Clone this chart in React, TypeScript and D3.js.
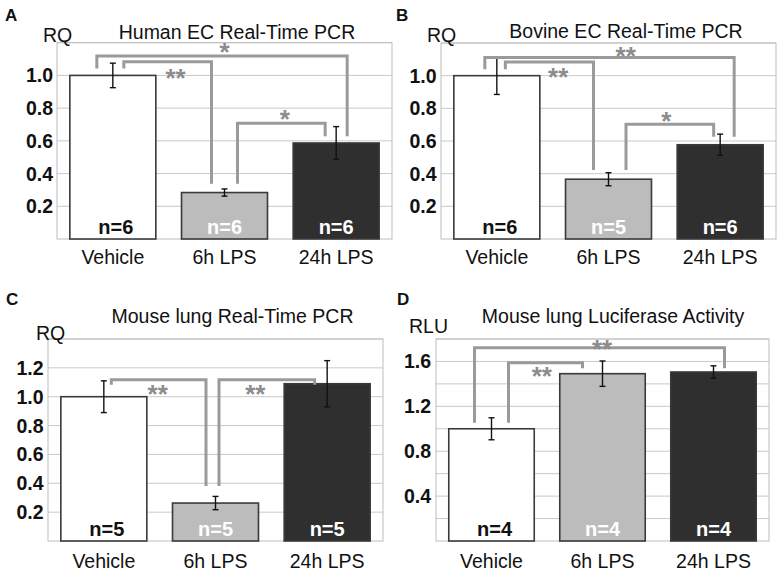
import React from "react";
import * as d3 from "d3";

// ---------- data ----------
const categories = ["Vehicle", "6h LPS", "24h LPS"];

const humanValues = [1.0, 0.284, 0.587];
const humanErrors = [0.075, 0.022, 0.1];
const humanN = [6, 6, 6];

const bovineValues = [1.0, 0.366, 0.577];
const bovineErrors = [0.115, 0.04, 0.065];
const bovineN = [6, 5, 6];

const mouseRQValues = [1.0, 0.263, 1.09];
const mouseRQErrors = [0.11, 0.046, 0.16];
const mouseRQN = [5, 5, 5];

const lucValues = [1.0, 1.491, 1.506];
const lucErrors = [0.098, 0.113, 0.055];
const lucN = [4, 4, 4];

const rqTicks12 = [0.2, 0.4, 0.6, 0.8, 1.0];
const rqTicks14 = [0.2, 0.4, 0.6, 0.8, 1.0, 1.2];
const rluTicks = [0.4, 0.8, 1.2, 1.6];

const grid12 = [0.2, 0.4, 0.6, 0.8, 1.0, 1.2];
const grid14 = [0.2, 0.4, 0.6, 0.8, 1.0, 1.2, 1.4];
const grid18 = [0.2, 0.4, 0.6, 0.8, 1.0, 1.2, 1.4, 1.6, 1.8];

// significance brackets: from/to category index, bracket level, leg ends, label, label level, label pos along span
const humanBrackets = [
  { from: 0, to: 2, level: 1.118, endFrom: 1.043, endTo: 0.628, label: "*", labelLevel: 1.178, t: 0.51 },
  { from: 0, to: 1, level: 1.084, endFrom: 1.043, endTo: 0.337, label: "**", labelLevel: 1.018, t: 0.59 },
  { from: 1, to: 2, level: 0.707, endFrom: 0.337, endTo: 0.628, label: "*", labelLevel: 0.772, t: 0.54 },
];
const bovineBrackets = [
  { from: 0, to: 2, level: 1.111, endFrom: 1.04, endTo: 0.626, label: "**", labelLevel: 1.156, t: 0.565 },
  { from: 0, to: 1, level: 1.084, endFrom: 1.04, endTo: 0.422, label: "**", labelLevel: 1.028, t: 0.6 },
  { from: 1, to: 2, level: 0.703, endFrom: 0.422, endTo: 0.626, label: "*", labelLevel: 0.758, t: 0.46 },
];
const mouseRQBrackets = [
  { from: 0, to: 1, level: 1.118, endFrom: 1.083, endTo: 0.381, label: "**", labelLevel: 1.062, t: 0.49 },
  { from: 1, to: 2, level: 1.118, endFrom: 0.381, endTo: 1.083, label: "**", labelLevel: 1.062, t: 0.38 },
];
const lucBrackets = [
  { from: 0, to: 2, level: 1.723, endFrom: 1.054, endTo: 1.539, label: "**", labelLevel: 1.767, t: 0.51 },
  { from: 0, to: 1, level: 1.589, endFrom: 1.054, endTo: 1.539, label: "**", labelLevel: 1.521, t: 0.45 },
];

// ---------- layout ----------
const FONT = "'Liberation Sans', Arial, Helvetica, sans-serif";
const barFills = ["#ffffff", "#bcbcbc", "#2f2f2f"];
const nColors = ["#111111", "#ffffff", "#ffffff"];
const BRACKET = "#9a9a9a";

// leg offsets (px) from bar centre, per bracket
const humanLegDx = [[-16, 11], [11, -13], [13, -11]];
const bovineLegDx = [[-12, 14], [8.5, -15], [17.5, -6.5]];
const mouseRQLegDx = [[7.5, -9.5], [3.5, -12.5]];
const lucLegDx = [[-17, 11], [17, -20]];

type Bracket = { from: number; to: number; level: number; endFrom: number; endTo: number; label: string; labelLevel: number; t: number };

type PanelProps = {
  letter: string;
  title: string;
  yLabel: string;
  values: number[];
  errors: number[];
  ns: number[];
  yMax: number;
  ticks: number[];
  grid: number[];
  brackets: Bracket[];
  legDx: number[][];
  x0: number; x1: number; yTop: number; yBottom: number;
  letterPos: [number, number];
  titlePos: [number, number];
  yLabelPos: [number, number];
  tickRight: number;
  xLabelY: number;
  nY: number;
};

function Panel(p: PanelProps) {
  const x = d3.scaleBand<string>().domain(categories).range([p.x0, p.x1]).paddingInner(0.23).paddingOuter(0.115);
  const y = d3.scaleLinear().domain([0, p.yMax]).range([p.yBottom, p.yTop]);
  const bw = x.bandwidth();
  const cx = (i: number) => (x(categories[i]) as number) + bw / 2;
  const starSize = 26;
  return (
    <g>
      {/* grid */}
      {p.grid.map((g) => (
        <line key={"g" + g} x1={p.x0} x2={p.x1} y1={y(g)} y2={y(g)} stroke="#c9c9c9" strokeWidth={1} />
      ))}
      <rect x={p.x0} y={p.yTop} width={p.x1 - p.x0} height={p.yBottom - p.yTop} fill="none" stroke="#bdbdbd" strokeWidth={1} />
      {/* bars */}
      {p.values.map((v, i) => (
        <rect key={"b" + i} x={x(categories[i])} y={y(v)} width={bw} height={y(0) - y(v)}
          fill={barFills[i]} stroke="#3a3a3a" strokeWidth={1.6} />
      ))}
      {/* error bars */}
      {p.values.map((v, i) => {
        const c = cx(i);
        const hi = y(v + p.errors[i]);
        const lo = y(v - p.errors[i]);
        return (
          <g key={"e" + i} stroke="#111" strokeWidth={1.4}>
            <line x1={c} x2={c} y1={hi} y2={lo} />
            <line x1={c - 3} x2={c + 3} y1={hi} y2={hi} />
            <line x1={c - 3} x2={c + 3} y1={lo} y2={lo} />
          </g>
        );
      })}
      {/* brackets */}
      {p.brackets.map((b, k) => {
        const xa = cx(b.from) + p.legDx[k][0];
        const xb = cx(b.to) + p.legDx[k][1];
        const path = d3.path();
        path.moveTo(xa, y(b.endFrom));
        path.lineTo(xa, y(b.level));
        path.lineTo(xb, y(b.level));
        path.lineTo(xb, y(b.endTo));
        const lx = xa + (xb - xa) * b.t;
        const ly = y(b.labelLevel) + starSize * 0.57;
        return (
          <g key={"k" + k}>
            <path d={path.toString()} fill="none" stroke={BRACKET} strokeWidth={3} strokeLinejoin="miter" />
            <text x={lx} y={ly} textAnchor="middle" fontSize={starSize} fontWeight="bold" fill="#8c8c8c" fontFamily={FONT}>{b.label}</text>
          </g>
        );
      })}
      {/* n labels */}
      {p.ns.map((n, i) => (
        <text key={"n" + i} x={cx(i) + (i === 0 ? 3 : 0)} y={p.nY} textAnchor="middle" fontSize={20} fontWeight="bold" fill={nColors[i]} fontFamily={FONT}>{"n=" + n}</text>
      ))}
      {/* y ticks */}
      {p.ticks.map((t) => (
        <text key={"t" + t} x={p.tickRight} y={y(t)} textAnchor="end" dominantBaseline="central" fontSize={19.5} fontWeight="bold" fill="#111" fontFamily={FONT}>{t.toFixed(1)}</text>
      ))}
      {/* x labels */}
      {categories.map((c, i) => (
        <text key={"x" + i} x={cx(i)} y={p.xLabelY} textAnchor="middle" fontSize={19.5} fill="#111" fontFamily={FONT}>{c}</text>
      ))}
      <text x={p.titlePos[0]} y={p.titlePos[1]} textAnchor="middle" fontSize={19.5} fill="#111" fontFamily={FONT}>{p.title}</text>
      <text x={p.yLabelPos[0]} y={p.yLabelPos[1]} fontSize={19.5} fill="#111" fontFamily={FONT}>{p.yLabel}</text>
      <text x={p.letterPos[0]} y={p.letterPos[1]} fontSize={17} fontWeight="bold" fill="#111" fontFamily={FONT}>{p.letter}</text>
    </g>
  );
}

export default function App() {
  return (
    <svg width={782} height={573} viewBox="0 0 782 573" style={{ position: "absolute", left: 0, top: 0, background: "#fff" }}>
      <rect width={782} height={573} fill="#fff" />
      <Panel letter="A" title="Human EC Real-Time PCR" yLabel="RQ" values={humanValues} errors={humanErrors} ns={humanN}
        yMax={1.2} ticks={rqTicks12} grid={grid12} brackets={humanBrackets} legDx={humanLegDx}
        x0={57} x1={392} yTop={42.7} yBottom={239} letterPos={[5, 20.5]} titlePos={[237, 38.5]} yLabelPos={[43, 42]}
        tickRight={53} xLabelY={264} nY={233.5} />
      <Panel letter="B" title="Bovine EC Real-Time PCR" yLabel="RQ" values={bovineValues} errors={bovineErrors} ns={bovineN}
        yMax={1.2} ticks={rqTicks12} grid={grid12} brackets={bovineBrackets} legDx={bovineLegDx}
        x0={441} x1={776} yTop={43} yBottom={239} letterPos={[396, 20.5]} titlePos={[626, 37.5]} yLabelPos={[427, 42]}
        tickRight={436.5} xLabelY={264} nY={234} />
      <Panel letter="C" title="Mouse lung Real-Time PCR" yLabel="RQ" values={mouseRQValues} errors={mouseRQErrors} ns={mouseRQN}
        yMax={1.4} ticks={rqTicks14} grid={grid14} brackets={mouseRQBrackets} legDx={mouseRQLegDx}
        x0={48} x1={383} yTop={339} yBottom={541} letterPos={[6, 305]} titlePos={[232.5, 323]} yLabelPos={[36, 339.5]}
        tickRight={43.5} xLabelY={567.5} nY={536} />
      <Panel letter="D" title="Mouse lung Luciferase Activity" yLabel="RLU" values={lucValues} errors={lucErrors} ns={lucN}
        yMax={1.8} ticks={rluTicks} grid={grid18} brackets={lucBrackets} legDx={lucLegDx}
        x0={436} x1={769} yTop={339} yBottom={541} letterPos={[397, 304.5]} titlePos={[613, 323]} yLabelPos={[409, 333]}
        tickRight={431} xLabelY={567.5} nY={536} />
    </svg>
  );
}
